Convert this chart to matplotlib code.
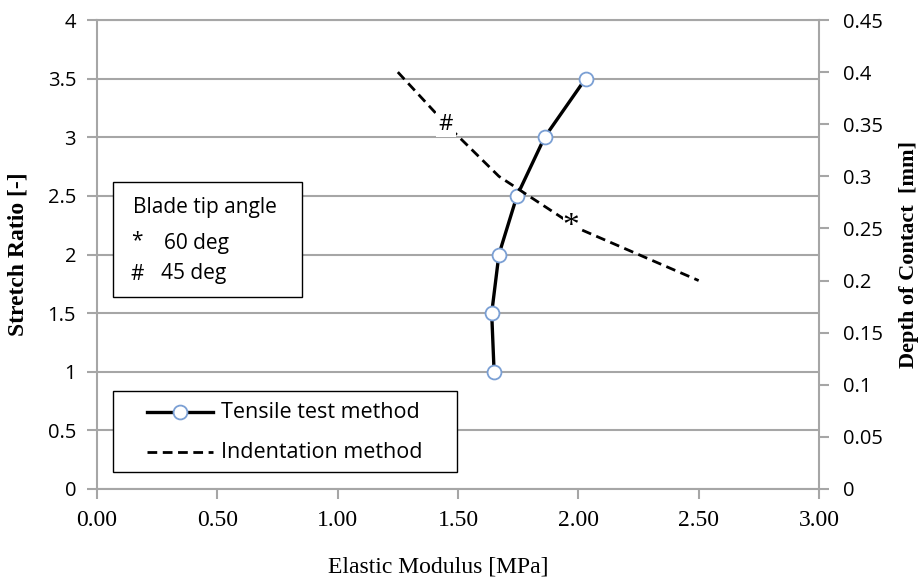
import matplotlib
matplotlib.use('Agg')
import matplotlib.pyplot as plt
from matplotlib.lines import Line2D
from matplotlib.patches import Rectangle

# data
stretch = [1.0, 1.5, 2.0, 2.5, 3.0, 3.5]
e_tensile = [1.65, 1.64, 1.67, 1.745, 1.86, 2.03]

depth = [0.4, 0.35, 0.3, 0.25, 0.2]
e_indent = [1.25, 1.45, 1.67, 2.0, 2.5]

x_ticks = [0.0, 0.5, 1.0, 1.5, 2.0, 2.5, 3.0]
y_ticks = [0, 0.5, 1, 1.5, 2, 2.5, 3, 3.5, 4]
y2_ticks = [0, 0.05, 0.1, 0.15, 0.2, 0.25, 0.3, 0.35, 0.4, 0.45]

grey = '#a6a6a6'
sans = 'Open Sans'
serif = 'Liberation Serif'
W, H = 722, 469  # plot area size in pixels, used for placing boxes

fig = plt.figure(figsize=(9.21, 5.82), dpi=100)
ax = fig.add_axes([97/921, 1 - 489/582, W/921, H/582])
ax2 = ax.twinx()

# tensile test curve (left axis)
ax.plot(e_tensile, stretch, color='black', lw=2.4, marker='o', ms=10,
        mfc='white', mec='#7a9fd4', mew=1.3, zorder=5)
ax.set_xlim(0, 3)
ax.set_ylim(0, 4)
ax.set_xticks(x_ticks)
ax.set_xticklabels(['%.2f' % v for v in x_ticks], fontfamily=serif, fontsize=17)
ax.set_yticks(y_ticks)
ax.set_yticklabels(['%g' % v for v in y_ticks], fontfamily=sans, fontsize=14.5)
ax.grid(axis='y', color=grey, lw=1.5)
ax.set_axisbelow(True)
ax.tick_params(axis='both', color=grey, length=7, width=1.5, pad=8)
for s in ['left', 'bottom', 'top']:
    ax.spines[s].set_color(grey)
    ax.spines[s].set_linewidth(1.5)
ax.spines['right'].set_visible(False)

ax.set_xlabel('Elastic Modulus [MPa]', fontfamily=serif, fontsize=17)
ax.xaxis.set_label_coords((438 - 97)/W, -67/H)
ax.set_ylabel('Stretch Ratio [-]', fontfamily=serif, fontsize=17,
              fontweight='bold', labelpad=14)

# indentation curve (right axis)
ax2.plot(e_indent, depth, color='black', lw=2.0, ls=(0, (3.5, 2)))
ax2.set_ylim(0, 0.45)
ax2.set_yticks(y2_ticks)
ax2.set_yticklabels(['%g' % v for v in y2_ticks], fontfamily=sans, fontsize=14.5)
ax2.tick_params(axis='y', color=grey, length=7, width=1.5, pad=10)
for s in ['left', 'bottom', 'top']:
    ax2.spines[s].set_visible(False)
ax2.spines['right'].set_color(grey)
ax2.spines['right'].set_linewidth(1.5)
ax2.set_ylabel('Depth of Contact  [mm]', fontfamily=serif, fontsize=16,
               fontweight='bold', labelpad=12)

# blade tip markers on the indentation line
ax2.text(e_indent[1], depth[1], '#', fontfamily=sans, fontsize=16,
         ha='center', va='center',
         bbox=dict(fc='white', ec='none', pad=2))
ax2.text(e_indent[3] - 0.03, depth[3] + 0.002, '*', fontfamily=serif, fontsize=24,
         ha='center', va='center',
         bbox=dict(fc='white', ec='none', pad=0))

# blade tip angle note
ax.add_patch(Rectangle((16/W, 192/H), 189/W, 115/H, transform=ax.transAxes,
                       fc='white', ec='black', lw=1.0, zorder=6))
note = [(36, 281, 'Blade tip angle', 'left'),
        (40, 248, '*', 'center'), (67, 246, '60 deg', 'left'),
        (40, 215, '#', 'center'), (64, 215, '45 deg', 'left')]
for px, py, s, ha in note:
    ax.text(px/W, py/H, s, transform=ax.transAxes, fontfamily=sans, fontsize=15,
            va='center', ha=ha, zorder=7)

# legend, drawn by hand to match the wide side padding
ax.add_patch(Rectangle((16/W, 17/H), 344/W, 81/H, transform=ax.transAxes,
                       fc='white', ec='black', lw=1.0, zorder=6))
ax.add_line(Line2D([50/W, 116/W], [77/H, 77/H], transform=ax.transAxes,
                   color='black', lw=2.4, zorder=7))
ax.add_line(Line2D([83/W], [77/H], transform=ax.transAxes, ls='none',
                   marker='o', ms=10, mfc='white', mec='#7a9fd4', mew=1.3, zorder=8))
ax.add_line(Line2D([50/W, 116/W], [37/H, 37/H], transform=ax.transAxes,
                   color='black', lw=2.0, ls=(0, (3.5, 2)), zorder=7))
ax.text(124/W, 77/H, 'Tensile test method', transform=ax.transAxes,
        fontfamily=sans, fontsize=15.5, va='center', ha='left', zorder=8)
ax.text(124/W, 37/H, 'Indentation method', transform=ax.transAxes,
        fontfamily=sans, fontsize=15.5, va='center', ha='left', zorder=8)

plt.savefig('out.png', dpi=100)
